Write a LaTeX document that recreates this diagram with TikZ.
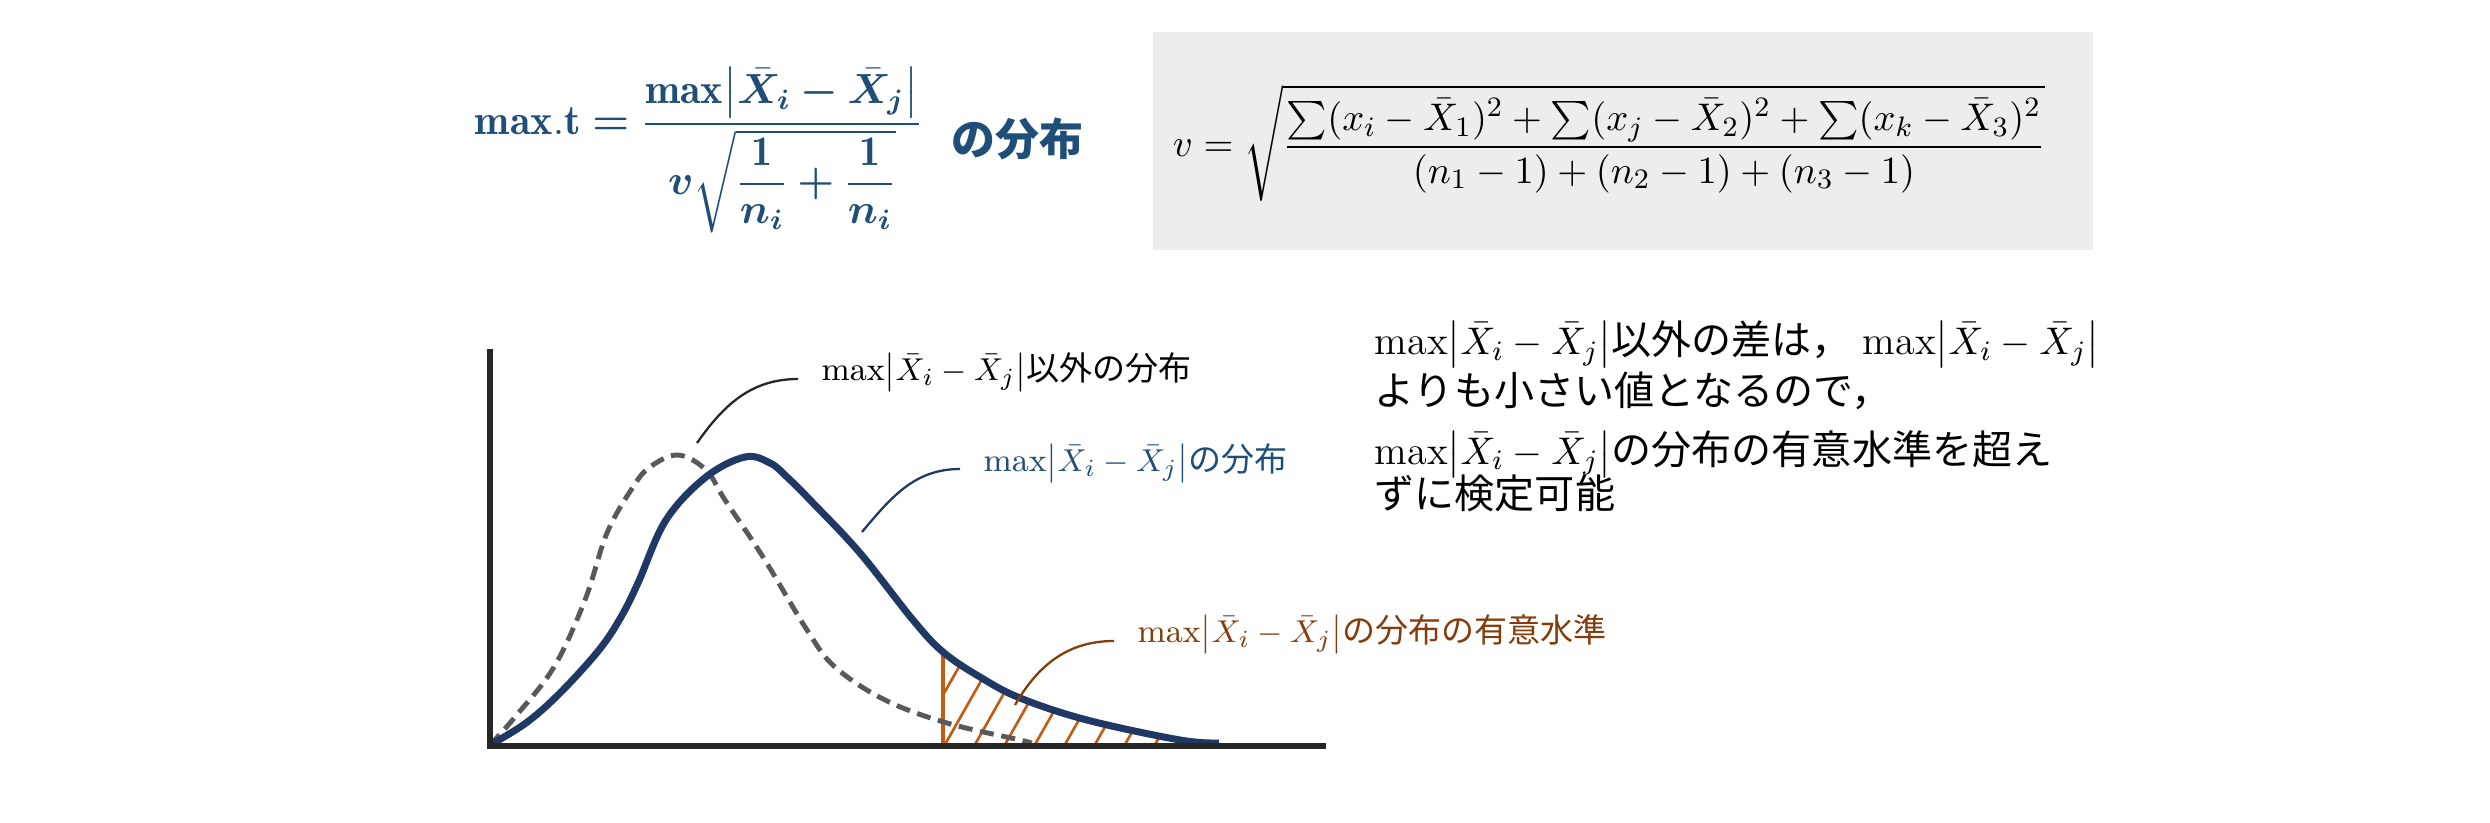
\documentclass[tikz,border=0pt]{standalone}
\usepackage{amsmath}
\usepackage{bm}
\usepackage{fontspec}
\newfontfamily\jp{Noto Sans CJK JP}
\usepackage{tikz}
\usetikzlibrary{positioning,arrows.meta}
\definecolor{titleblue}{HTML}{1F4E79}
\definecolor{navy}{HTML}{1F3864}
\definecolor{dashgray}{HTML}{595959}
\definecolor{axisblack}{HTML}{262626}
\definecolor{hatchorange}{HTML}{C55A11}
\definecolor{sigbrown}{HTML}{843C0C}
\definecolor{boxgray}{HTML}{EDEDED}
\newcommand{\maxdiff}{\max\!\left|\bar{X}_i-\bar{X}_j\right|}
\newcommand{\bmaxdiff}{\mathbf{max}\!\left|\bm{\bar{X}}_{\bm{i}}\bm{-}\bm{\bar{X}}_{\bm{j}}\right|}

\begin{document}
\begin{tikzpicture}[
  axisline/.style={draw=axisblack, line width=1.8pt},
  dist/.style={draw=navy, line width=2pt},
  otherdist/.style={draw=dashgray, line width=1.4pt, dash pattern=on 4pt off 2.2pt},
  hatchline/.style={draw=hatchorange, line width=0.75pt},
  lead/.style={line width=0.65pt},
  lbl/.style={inner sep=0pt, anchor=west, font=\fontsize{9.4}{11}\selectfont\jp}]
\useasboundingbox (0,0) rectangle (24.9,8.22);

% formulas
\node[inner sep=0pt, text=titleblue, font=\fontsize{12}{14}\selectfont] (tform) at (6.99,6.72) {$\mathbf{max.t}\bm{=}\dfrac{\bmaxdiff}{\bm{v}\sqrt{\dfrac{\mathbf{1}}{\bm{n}_{\bm{i}}}\bm{+}\dfrac{\mathbf{1}}{\bm{n}_{\bm{i}}}}}$};
\node[inner sep=0pt, anchor=west, text=titleblue, font=\fontsize{12.5}{14}\selectfont\jp\bfseries] (tdist) at (9.51,6.83) {の分布};
\node[fill=boxgray, minimum width=9.40cm, minimum height=2.18cm] (vbox) at (16.23,6.81) {};
\node[inner sep=0pt, font=\fontsize{11.3}{13}\selectfont] (vform) at (16.09,6.79) {$v=\sqrt{\dfrac{\sum(x_i-\bar{X}_1)^2+\sum(x_j-\bar{X}_2)^2+\sum(x_k-\bar{X}_3)^2}{(n_1-1)+(n_2-1)+(n_3-1)}}$};

% axes
\coordinate (o) at (4.90,0.76);
\coordinate (ytop) at (4.90,4.73);
\coordinate (xend) at (13.26,0.76);
\coordinate (cut) at (9.43,1.70);
\coordinate (cutb) at (9.43,0.76);

% significance area
\begin{scope}
\clip (cutb) rectangle (12.5,4);
\clip plot[smooth, tension=0.6] coordinates {(4.90,0.77) (5.26,0.99) (5.60,1.29) (5.99,1.72) (6.21,2.05) (6.38,2.39) (6.66,3.02) (7.06,3.45) (7.45,3.65) (7.70,3.59) (7.87,3.45) (8.13,3.19) (8.60,2.69) (9.13,2.02) (9.43,1.70) (9.80,1.45) (10.20,1.24) (10.87,1.02) (11.80,0.82) (12.19,0.79)} -- cycle;
\foreach \k in {-4,...,10} \draw[hatchline] ({9.43+0.30*\k},0.74) -- ++(0.55,0.97);
\end{scope}
\draw[hatchorange, line width=0.9pt] (cutb) -- (cut);

% curves
\draw[otherdist] plot[smooth, tension=0.6] coordinates {(4.90,0.77) (5.15,1.05) (5.54,1.55) (5.85,2.22) (6.07,2.89) (6.33,3.35) (6.50,3.55) (6.78,3.67) (7.06,3.52) (7.25,3.22) (7.63,2.65) (8.07,1.92) (8.35,1.55) (8.85,1.22) (9.47,0.99) (10.20,0.82) (10.31,0.79)};
\draw[dist] plot[smooth, tension=0.6] coordinates {(4.90,0.77) (5.26,0.99) (5.60,1.29) (5.99,1.72) (6.21,2.05) (6.38,2.39) (6.66,3.02) (7.06,3.45) (7.45,3.65) (7.70,3.59) (7.87,3.45) (8.13,3.19) (8.60,2.69) (9.13,2.02) (9.43,1.70) (9.80,1.45) (10.20,1.24) (10.87,1.02) (11.80,0.82) (12.19,0.79)};
\draw[axisline] (ytop) -- (o) -- (xend);

% labels
\node[lbl] (lother) at (8.21,4.50) {$\maxdiff$以外の分布};
\node[lbl, text=titleblue] (ldist) at (9.83,3.59) {$\maxdiff$の分布};
\node[lbl, text=sigbrown] (lsig) at (11.37,1.88) {$\maxdiff$の分布の有意水準};
\coordinate (po) at (6.97,3.79);
\coordinate (pd) at (8.62,2.90);
\coordinate (ps) at (10.15,1.17);
\draw[lead, draw=axisblack] (po) to[out=55,in=180] ([xshift=-2.3mm,yshift=-0.7mm]lother.west);
\draw[lead, draw=navy] (pd) to[out=50,in=180] ([xshift=-2.3mm,yshift=-0.6mm]ldist.west);
\draw[lead, draw=sigbrown] (ps) to[out=60,in=180] ([xshift=-2.3mm,yshift=-0.7mm]lsig.west);

% note
\node[inner sep=0pt, anchor=north west, align=left, font=\fontsize{11.4}{12.2}\selectfont\jp] (note) at (13.74,5.02)
  {$\maxdiff$以外の差は，$\;\maxdiff$\\
   よりも小さい値となるので，\\[4.6pt]
   $\maxdiff$の分布の有意水準を超え\\[-1.7pt]
   ずに検定可能};
\end{tikzpicture}
\end{document}
